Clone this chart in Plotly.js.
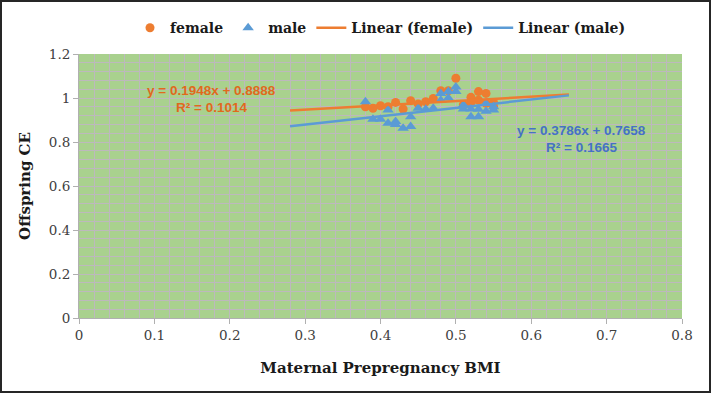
<!DOCTYPE html>
<html>
<head>
<meta charset="utf-8">
<script src="https://cdn.plot.ly/plotly-3.0.1.min.js"></script>
<style>
html,body{margin:0;padding:0;background:#fff;}
#frame{width:711px;height:393px;box-sizing:border-box;border:2px solid #262626;overflow:hidden;}
#chart{width:707px;height:389px;}
</style>
</head>
<body>
<div id="frame"><div id="chart"></div></div>
<script>
// Female data (orange circles)
const femaleX = [0.38,0.39,0.40,0.41,0.42,0.43,0.44,0.45,0.46,0.47,0.48,0.49,0.50,0.51,0.52,0.52,0.53,0.53,0.54,0.54,0.55,0.55];
const femaleY = [0.960,0.953,0.965,0.960,0.980,0.950,0.988,0.973,0.983,0.998,1.033,1.033,1.090,0.970,1.003,0.979,1.029,0.990,1.021,0.976,0.980,0.960];
// Male data (blue triangles)
const maleX = [0.38,0.39,0.40,0.41,0.41,0.42,0.42,0.43,0.44,0.44,0.45,0.46,0.47,0.48,0.48,0.49,0.49,0.50,0.50,0.51,0.51,0.52,0.52,0.53,0.53,0.54,0.54,0.55,0.55];
const maleY = [0.983,0.903,0.903,0.945,0.885,0.893,0.880,0.862,0.870,0.915,0.953,0.949,0.953,1.021,0.990,1.030,1.000,1.030,1.050,0.968,0.950,0.950,0.915,0.949,0.915,0.940,0.975,0.945,0.960];
// Trend line endpoints (from the equations shown on the chart)
const trendX = [0.28, 0.65];
const femaleTrendY = [0.9433, 1.0154];
const maleTrendY = [0.8718, 1.0119];
// Labels
const femaleEq = ["y = 0.1948x + 0.8888", "R² = 0.1014"];
const maleEq = ["y = 0.3786x + 0.7658", "R² = 0.1665"];

const orange = '#ed7d31';
const blue = '#5b9bd5';
const gridC = '#bdb8bd';

const traces = [
  {x: femaleX, y: femaleY, type: 'scatter', mode: 'markers', name: 'female',
   marker: {symbol: 'circle', size: 9, color: orange}},
  {x: maleX, y: maleY, type: 'scatter', mode: 'markers', name: 'male',
   marker: {symbol: 'triangle-up', size: 10, color: blue}},
  {x: trendX, y: femaleTrendY, type: 'scatter', mode: 'lines', name: 'Linear (female)',
   line: {color: orange, width: 2.5}},
  {x: trendX, y: maleTrendY, type: 'scatter', mode: 'lines', name: 'Linear (male)',
   line: {color: blue, width: 2.5}}
];

const axisFont = {family: 'DejaVu Serif, serif', size: 13.5, color: '#404040'};
const titleFont = {family: 'DejaVu Serif, serif', size: 15, color: '#1a1a1a', weight: 'bold'};
const eqFontO = {family: 'Liberation Sans, Arial, sans-serif', size: 13.5, color: '#e06a1c', weight: 'bold'};
const eqFontB = {family: 'Liberation Sans, Arial, sans-serif', size: 13.5, color: '#4472c4', weight: 'bold'};

const layout = {
  width: 707, height: 389,
  margin: {l: 77, r: 27, t: 52, b: 73, autoexpand: false},
  paper_bgcolor: '#ffffff',
  plot_bgcolor: '#a9d18e',
  showlegend: true,
  legend: {orientation: 'h', x: 0.5, xanchor: 'center', y: 1.098, yanchor: 'middle',
           font: {family: 'DejaVu Serif, serif', size: 14, color: '#1a1a1a', weight: 'bold'},
           itemwidth: 30, tracegroupgap: 0},
  xaxis: {range: [0, 0.8], dtick: 0.1, tick0: 0, showgrid: true, gridcolor: gridC, gridwidth: 1,
          minor: {dtick: 0.02, showgrid: true, gridcolor: gridC, gridwidth: 1},
          showline: true, linecolor: '#b0b0b0', linewidth: 1, zeroline: false,
          ticks: 'outside', ticklen: 5, tickcolor: '#b0b0b0',
          tickfont: axisFont, automargin: false,
          title: {text: 'Maternal Prepregnancy BMI', font: titleFont, standoff: 20}},
  yaxis: {range: [0, 1.2], dtick: 0.2, tick0: 0, showgrid: true, gridcolor: gridC, gridwidth: 1,
          minor: {dtick: 0.04, showgrid: true, gridcolor: gridC, gridwidth: 1},
          showline: true, linecolor: '#b0b0b0', linewidth: 1, zeroline: false,
          ticks: 'outside', ticklen: 5, tickcolor: '#b0b0b0',
          tickfont: axisFont, automargin: false,
          title: {text: 'Offspring CE', font: titleFont, standoff: 14}},
  annotations: [
    {x: 0.176, y: 1.034, xref: 'x', yref: 'y', text: femaleEq[0], showarrow: false, font: eqFontO},
    {x: 0.176, y: 0.955, xref: 'x', yref: 'y', text: femaleEq[1], showarrow: false, font: eqFontO},
    {x: 0.667, y: 0.852, xref: 'x', yref: 'y', text: maleEq[0], showarrow: false, font: eqFontB},
    {x: 0.667, y: 0.777, xref: 'x', yref: 'y', text: maleEq[1], showarrow: false, font: eqFontB}
  ]
};

Plotly.newPlot('chart', traces, layout, {displayModeBar: false, staticPlot: true});
</script>
</body>
</html>
